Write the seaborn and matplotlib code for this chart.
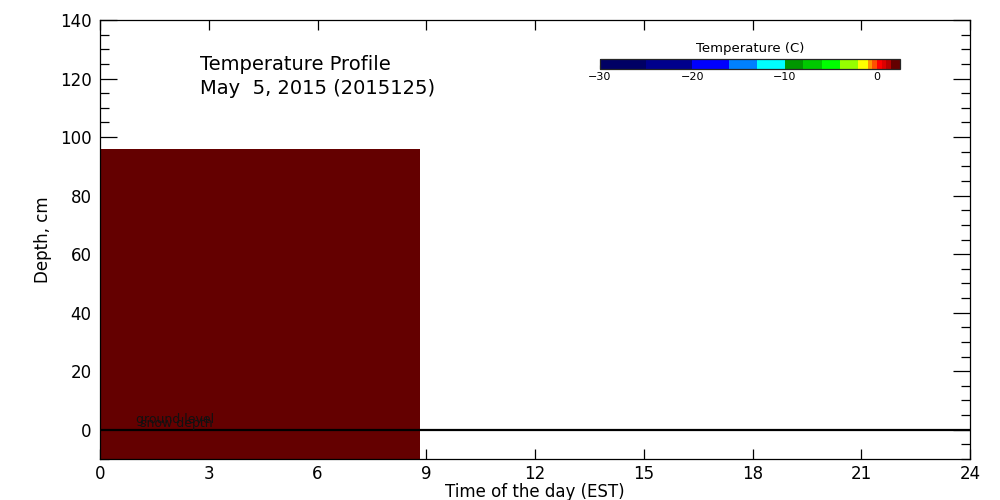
import numpy as np
import matplotlib
matplotlib.use('Agg')
import matplotlib.pyplot as plt
import matplotlib.colors as mcolors
import matplotlib.ticker as mtick
import seaborn as sns

sns.set_theme(style='ticks')
plt.rcParams['font.family'] = ['DejaVu Sans']
plt.rcParams['text.color'] = 'black'
plt.rcParams['axes.labelcolor'] = 'black'

# temperature grid (cell edges in hours / cm, one value per cell)
time_edges = [0.0, 8.83]
depth_edges = [-10.0, 96.0]
temperature = [[2.0]]

# ground level line
ground_x = [0, 24]
ground_y = [0, 0]

# colour scale
levels = [-30, -25, -20, -16, -13, -10, -8, -6, -4, -2, -1, -0.5, 0, 0.5, 1, 1.5, 2.5]
colours = ['#000064', '#00008c', '#0000ff', '#0080ff', '#00ffff', '#009600',
           '#00c800', '#00ff00', '#96ff00', '#ffff00', '#ff9600', '#ff5000',
           '#ff0000', '#dc0000', '#b40000', '#640000']
cbar_ticks = [-30, -20, -10, 0]

cmap = mcolors.ListedColormap(colours)
norm = mcolors.BoundaryNorm(levels, cmap.N)

fig = plt.figure(figsize=(10, 5), dpi=100)
ax = fig.add_axes([0.1, 0.082, 0.87, 0.878])

mesh = ax.pcolormesh(time_edges, depth_edges, np.array(temperature),
                     cmap=cmap, norm=norm, shading='flat')
sns.lineplot(x=ground_x, y=ground_y, color='black', linewidth=1.6, ax=ax)

ax.text(1.0, 2.2, 'ground level', fontsize=9, color='#111111')
ax.text(1.1, 0.9, 'snow depth', fontsize=9, color='#111111')

ax.set_xlim(0, 24)
ax.set_ylim(-10, 140)
ax.xaxis.set_major_locator(mtick.MultipleLocator(3))
ax.yaxis.set_major_locator(mtick.FixedLocator(range(0, 141, 20)))
ax.yaxis.set_minor_locator(mtick.MultipleLocator(5))
ax.tick_params(axis='both', which='both', direction='in', top=True, right=True,
               colors='black', labelsize=12, width=0.9)
ax.tick_params(axis='x', which='major', length=7, pad=4)
ax.tick_params(axis='y', which='major', length=12, pad=6)
ax.tick_params(axis='y', which='minor', length=6.5)
for s in ax.spines.values():
    s.set_linewidth(0.9)
    s.set_color('black')
ax.set_facecolor('white')

ax.set_xlabel('Time of the day (EST)', fontsize=12, labelpad=0)
ax.set_ylabel('Depth, cm', fontsize=12, labelpad=6)

fig.text(0.2, 0.872, 'Temperature Profile', fontsize=14, va='center')
fig.text(0.2, 0.824, 'May  5, 2015 (2015125)', fontsize=14, va='center')

cax = fig.add_axes([0.6, 0.862, 0.3, 0.02])
cb = fig.colorbar(mesh, cax=cax, orientation='horizontal', ticks=cbar_ticks,
                  spacing='proportional')
cb.minorticks_off()
cb.outline.set_linewidth(0.9)
cax.tick_params(which='both', direction='in', length=3, labelsize=8, pad=2,
                width=0.8, colors='black')
cax.set_title('Temperature (C)', fontsize=9.5, pad=5)

fig.savefig('out.png', dpi=100, facecolor='white')
